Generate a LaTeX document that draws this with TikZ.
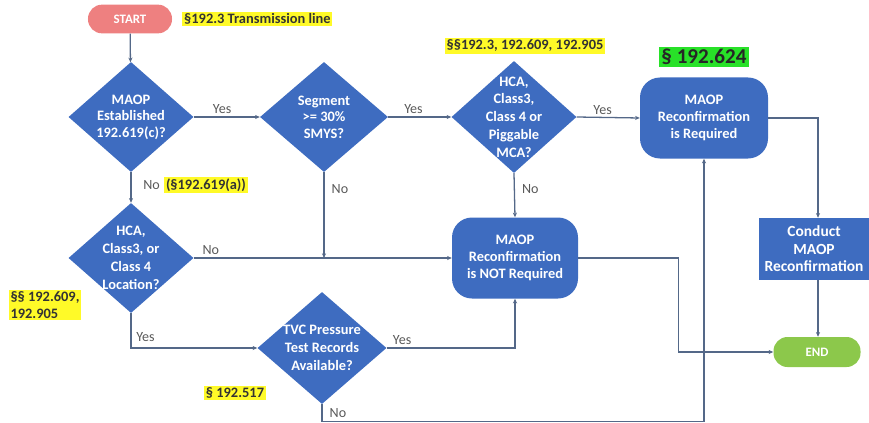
\documentclass[tikz,border=0pt]{standalone}
\usepackage{fontspec}
\setmainfont{Carlito}
\usetikzlibrary{shapes.geometric}
\usetikzlibrary{positioning}
\usetikzlibrary{arrows.meta}
\definecolor{flowblue}{RGB}{62,108,192}
\definecolor{linegray}{RGB}{84,104,136}
\definecolor{startpink}{RGB}{238,128,128}
\definecolor{endgreen}{RGB}{140,200,75}
\definecolor{hlyellow}{RGB}{255,250,40}
\definecolor{hlgreen}{RGB}{40,225,40}
\tikzset{
    dia/.style = {diamond, fill=flowblue, inner sep=0pt, minimum width=3.75cm, minimum height=3.3cm},
    dtext/.style = {text=white, align=center, font=\bfseries\fontsize{12.3}{14}\selectfont},
    proc/.style = {rectangle, rounded corners=0.6cm, fill=flowblue, text=white, align=center,
                   minimum width=3.8cm, minimum height=2.43cm, font=\bfseries\fontsize{12.3}{14.5}\selectfont},
    task/.style = {rectangle, fill=flowblue, text=white, align=center,
                   minimum width=3.3cm, minimum height=1.86cm, font=\bfseries\fontsize{13.2}{15}\selectfont},
    term/.style = {rectangle, rounded corners=0.42cm, text=white,
                   minimum height=0.86cm, font=\bfseries\fontsize{11}{13}\selectfont},
    hl/.style = {fill=hlyellow, inner sep=1.5pt, text=black!80, align=left, font=\bfseries\fontsize{12.3}{14}\selectfont},
    ann/.style = {text=black!65, font=\fontsize{12}{14}\selectfont, inner sep=2pt},
    edge/.style = {-{Stealth[length=4pt,width=3.5pt]}, draw=linegray, line width=1.1pt}
}
\begin{document}
\begin{tikzpicture}[x=0.03cm, y=-0.03cm]
  \useasboundingbox (0,0) rectangle (869,423);

  % terminals
  \node[term, fill=startpink, minimum width=2.52cm] (start) at (130,19) {START};
  \node[term, fill=endgreen, minimum width=2.61cm, minimum height=0.9cm] (end) at (817,352) {END};

  % decisions
  \node[dia, label={[dtext]center:MAOP\\Established\\192.619(c)?}] (d1) at (131,117) {};
  \node[dia, minimum width=3.84cm, label={[dtext]center:Segment\\>= 30\%\\SMYS?}] (d2) at (324,117) {};
  \node[dia, minimum height=3.36cm, label={[dtext, font=\bfseries\fontsize{12.3}{15.2}\selectfont]center:HCA,\\Class3,\\Class 4 or\\Piggable\\MCA?}] (d3) at (514,117) {};
  \node[dia, label={[dtext, font=\bfseries\fontsize{12.3}{15.2}\selectfont]center:HCA,\\Class3, or\\Class 4\\Location?}] (d4) at (131,258) {};
  \node[dia, minimum width=3.87cm, minimum height=3.36cm, label={[dtext, font=\bfseries\fontsize{12.3}{15.5}\selectfont]center:TVC Pressure\\Test Records\\Available?}] (d5) at (322,348) {};

  % outcomes
  \node[proc, minimum width=3.84cm] (r1) at (704,118) {MAOP\\Reconfirmation\\is Required};
  \node[proc, minimum width=3.78cm] (r2) at (515,258) {MAOP\\Reconfirmation\\is NOT Required};
  \node[task] (conduct) at (814,249) {Conduct\\MAOP\\Reconfirmation};

  % references
  \node[hl, right=0.3cm of start] (ref1) {§192.3 Transmission line};
  \node[hl] (ref2) at (525,46) {§§192.3, 192.609, 192.905};
  \node[fill=hlgreen, inner sep=2pt, text=black!85, font=\bfseries\fontsize{18}{21}\selectfont, above=0.3cm of r1] (ref3) {§ 192.624};
  \node[hl] (ref4) at (45,305) {§§ 192.609,\\192.905};
  \node[hl] (ref5) at (235,393) {§ 192.517};

  % connectors
  \draw[edge] (start) -- (d1);
  \draw[edge] (d1.east) -- node[ann, above, pos=0.43] {Yes} (d2.west);
  \draw[edge] (d2.east) -- node[ann, above, pos=0.4] {Yes} (d3.west);
  \draw[edge] (d3.east) -- node[ann, above, pos=0.41] {Yes} (r1.west);
  \draw[edge] (r1.east) -| (conduct.north -| 818,0);
  \draw[edge] (conduct.south -| 818,0) -- (end.north -| 818,0);
  \draw[edge] (d3.south) -- node[ann, right, pos=0.35, xshift=4pt] {No} (r2.north);
  \draw[edge] (r2.east) -- ++(100,0) |- (end.west);
  \draw[edge] (d2.south) -- node[ann, right, pos=0.2, xshift=4pt] {No} (d2.south |- r2.west);
  \draw[edge] (d1.south) -- node[ann, right, pos=0.42, xshift=8pt] (no1) {No} (d4.north);
  \node[hl, right=1pt of no1] (ref6) {(§192.619(a))};
  \draw[edge] (d4.east) -- node[ann, above, pos=0.066] {No} (r2.west);
  \draw[edge] (d4.south) |- node[ann, anchor=south west, pos=0.5, xshift=2pt, yshift=3pt] {Yes} (d5.west);
  \draw[edge] (d5.east) -| node[ann, above, pos=0.06] {Yes} (r2.south);
  \draw[edge] (d5.south) -- node[ann, right, xshift=4pt] {No} ++(0,17) -| (r1.south);
\end{tikzpicture}
\end{document}
